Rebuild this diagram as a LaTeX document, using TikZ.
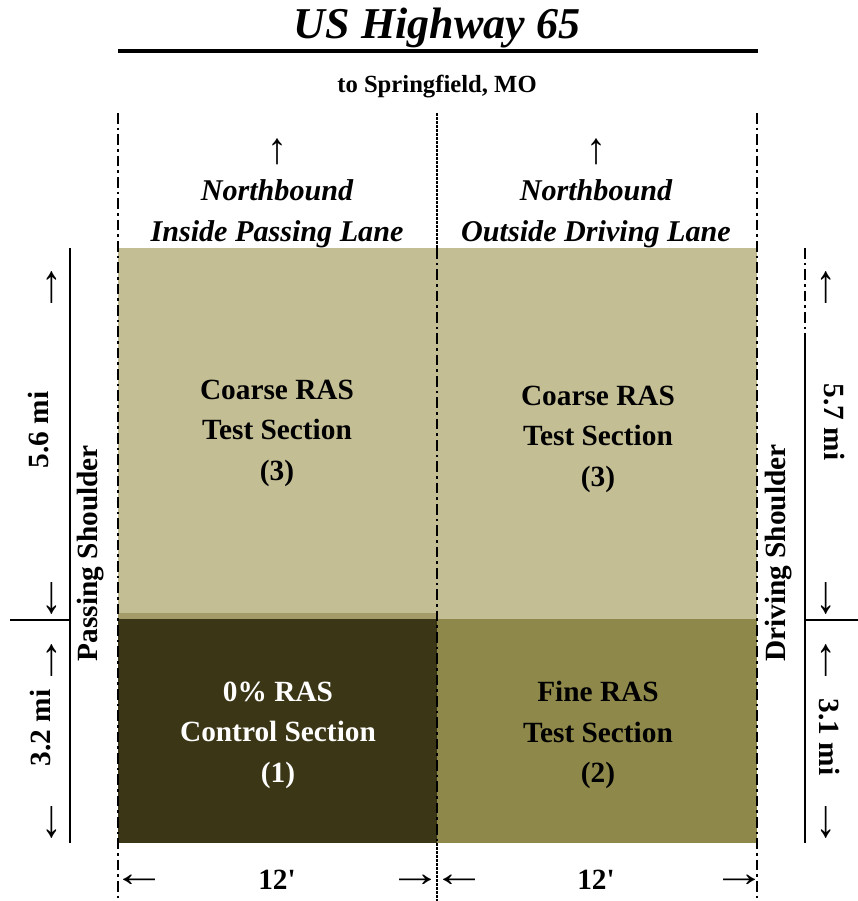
\documentclass[tikz,border=0pt]{standalone}
\usepackage{fontspec}
\setmainfont{Liberation Serif}

\definecolor{coarse}{HTML}{C4BE95}
\definecolor{control}{HTML}{3B3616}
\definecolor{fine}{HTML}{8F884B}
\definecolor{seam}{HTML}{A39B68}

% stretched arrow glyphs
\newcommand{\longarr}[1]{\scalebox{1.35}[1]{#1}}
\newcommand{\tallarr}[1]{\scalebox{1}[1.1]{#1}}

\begin{document}
\begin{tikzpicture}[x=0.75pt,y=-0.75pt]
\tikzset{every node/.style={inner sep=0pt},
  sect/.style={font=\fontsize{22}{30.4}\selectfont\bfseries, align=center},
  lane/.style={font=\fontsize{22.6}{30.8}\selectfont\bfseries\itshape, align=center},
  side/.style={font=\fontsize{22}{26}\selectfont\bfseries},
  arr/.style={font=\fontsize{30}{30}\selectfont},
  laneline/.style={line width=2pt, dash pattern=on 8pt off 3pt on 2pt off 3pt},
  fineline/.style={line width=1.4pt, dash pattern=on 2pt off 1pt},
  dimline/.style={line width=1.5pt}}
    \useasboundingbox (0,0) rectangle (858,901);

    % pavement sections
    \fill[coarse] (118,248) rectangle (437,613);
    \fill[seam] (118,613) rectangle (437,619);
    \fill[control] (118,619) rectangle (437,843);
    \fill[coarse] (437,248) rectangle (757,619);
    \fill[fine] (437,619) rectangle (757,843);

    % lane lines
    \draw[laneline] (118,113) -- (118,901);
    \draw[laneline] (757,113) -- (757,901);
    \draw[fineline] (437,113) -- (437,248);
    \draw[laneline] (437,248) -- (437,843);
    \draw[fineline] (437,843) -- (437,901);

    % title
    \node[font=\fontsize{33}{36}\selectfont\bfseries\itshape] (title) at (437,28) {US Highway 65};
    \draw[line width=3pt] (118,51) -- (758,51);
    \node[font=\fontsize{18.5}{20}\selectfont\bfseries] (dest) at (437,87) {to Springfield, MO};

    % lanes
    \node[arr] (upL) at (277,152) {\tallarr{↑}};
    \node[arr] (upR) at (596,152) {\tallarr{↑}};
    \node[lane] (laneL) at (277,214) {Northbound\\Inside Passing Lane};
    \node[lane] (laneR) at (596,214) {Northbound\\Outside Driving Lane};

    % sections
    \node[sect] (sec3L) at (277,433) {Coarse RAS\\Test Section\\(3)};
    \node[sect] (sec3R) at (598,439) {Coarse RAS\\Test Section\\(3)};
    \node[sect, text=white] (sec1) at (278,735) {0\% RAS\\Control Section\\(1)};
    \node[sect] (sec2) at (598,735) {Fine RAS\\Test Section\\(2)};

    % shoulders
    \node[side, rotate=90] (passing) at (91,553) {Passing Shoulder};
    \node[side, rotate=90] (driving) at (779,553) {Driving Shoulder};

    % left dimensions
    \draw[dimline] (70,248) -- (70,843);
    \draw[dimline] (10,620) -- (70,620);
    \node[arr, rotate=90] (l1) at (53,287) {\longarr{→}};
    \node[side, rotate=90] (d56) at (39,430) {5.6 mi};
    \node[arr, rotate=90] (l2) at (53,598) {\longarr{←}};
    \node[arr, rotate=90] (l3) at (53,660) {\longarr{→}};
    \node[side, rotate=90] (d32) at (41,728) {3.2 mi};
    \node[arr, rotate=90] (l4) at (53,822) {\longarr{←}};

    % right dimensions
    \draw[laneline] (805,248) -- (805,330);
    \draw[dimline] (805,333) -- (805,843);
    \draw[dimline] (805,620) -- (858,620);
    \node[arr, rotate=-90] (r1) at (825,287) {\longarr{←}};
    \node[side, rotate=-90] (d57) at (834,422) {5.7 mi};
    \node[arr, rotate=-90] (r2) at (825,598) {\longarr{→}};
    \node[arr, rotate=-90] (r3) at (825,660) {\longarr{←}};
    \node[side, rotate=-90] (d31) at (829,737) {3.1 mi};
    \node[arr, rotate=-90] (r4) at (825,822) {\longarr{→}};

    % widths
    \node[arr] (b1) at (139,881) {\longarr{←}};
    \node[side] (w1) at (277,880) {12\textquotesingle};
    \node[arr] (b2) at (415,881) {\longarr{→}};
    \node[arr] (b3) at (459,881) {\longarr{←}};
    \node[side] (w2) at (596,880) {12\textquotesingle};
    \node[arr] (b4) at (739,881) {\longarr{→}};
\end{tikzpicture}
\end{document}
